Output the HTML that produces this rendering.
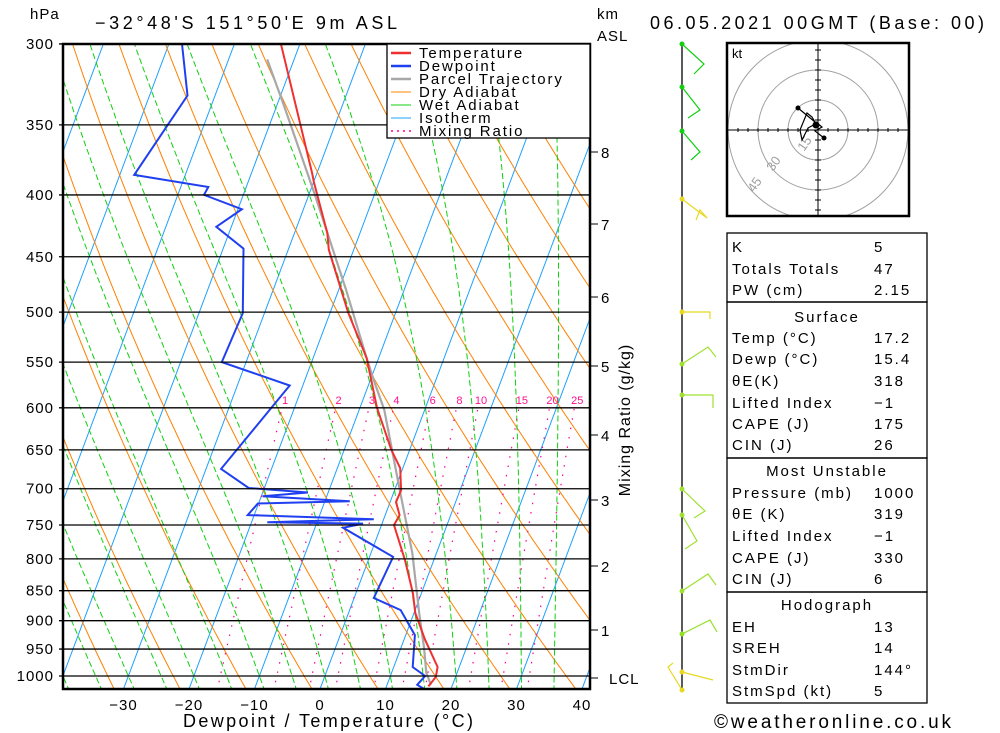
<!DOCTYPE html>
<html><head><meta charset="utf-8"><style>
body{margin:0;background:#fff;}
svg{display:block;font-family:"Liberation Sans",sans-serif;}
.t{font-size:15px;letter-spacing:1px;fill:#000;}
.tb{font-size:15px;letter-spacing:2px;fill:#000;}
</style></head><body>
<svg id="chart" width="1000" height="733" viewBox="0 0 1000 733">
<defs><clipPath id="pc"><rect x="63" y="44" width="527" height="645"/></clipPath>
<clipPath id="hc"><rect x="727" y="43" width="182" height="173"/></clipPath></defs>
<g id="bg" clip-path="url(#pc)"></g>
<g id="prof" clip-path="url(#pc)"></g>
<g id="frame"></g>
<text x="30" y="19" class="t">hPa</text>
<text x="95" y="29" class="t" style="font-size:18px" textLength="303" lengthAdjust="spacing">−32°48'S 151°50'E 9m ASL</text>
<text x="650" y="29" class="t" style="font-size:18px" textLength="335" lengthAdjust="spacing">06.05.2021 00GMT (Base: 00)</text>
<text x="597" y="19" class="t">km</text>
<text x="597" y="41" class="t">ASL</text>
<text x="183" y="727" class="t" style="font-size:18px" textLength="291" lengthAdjust="spacing">Dewpoint / Temperature (°C)</text>
<text x="630" y="420" class="t" transform="rotate(-90 630 420)" text-anchor="middle" style="font-size:16px">Mixing Ratio (g/kg)</text>
<g id="legend"></g>
<g id="barbs"></g>
<g id="hodo"></g>
<g id="table"></g>
<text x="714" y="728" class="t" style="font-size:19px" textLength="238" lengthAdjust="spacing">©weatheronline.co.uk</text>
</svg>
<script>
const tempP=[300,384,390,430,444,500,546,600,650,673,702,718,736,750,802,854,887,933,983,1002,1020];
const tempT=[-42.9,-30.7,-30.0,-25.0,-23.8,-17.3,-11.8,-7.4,-2.8,-0.4,1.0,0.9,2.2,1.9,5.6,8.7,10.2,13.2,16.7,17.0,16.4];
const dewP=[300,331,385,394,400,411,425,443,501,550,575,674,699,705,710,717,720,736,742,746,748,754,797,862,882,925,983,1000,1017,1025];
const dewT=[-58.0,-54.2,-57.8,-45.8,-46.0,-39.4,-42.3,-36.9,-33.3,-33.7,-22.0,-27.7,-22.4,-13.1,-19.8,-6.2,-20.1,-21.0,-1.5,-17.6,-2.9,-5.7,3.6,3.0,7.8,11.4,12.9,15.3,14.6,15.9];
const parcelP=[309,338,399,479,546,569,602,702,791,887,947,994,1017];
const parcelT=[-44.1,-38.8,-29.2,-18.9,-11.8,-9.5,-6.2,0.8,6.3,10.8,13.5,15.3,16.7];
const pressureTicks=[300,350,400,450,500,550,600,650,700,750,800,850,900,950,1000];
const tempTicks=[-30,-20,-10,0,10,20,30,40];
const kmTicks=[8,7,6,5,4,3,2,1];
const kmY=[152,224,297,366,435,500,566,630];
const mixRatios=[1,2,3,4,6,8,10,15,20,25];

const NS="http://www.w3.org/2000/svg";
function yP(p){return 676+525*Math.log(p/1000);}
function xT(T,p){return 320+6.55*T+0.375*(689-yP(p));}
function mk(parent,tag,attrs){const e=document.createElementNS(NS,tag);for(const k in attrs)e.setAttribute(k,attrs[k]);parent.appendChild(e);return e;}
function pts(P,T){return P.map((p,i)=>xT(T[i],p).toFixed(1)+","+yP(p).toFixed(1)).join(" ");}
const bg=document.getElementById('bg'),prof=document.getElementById('prof'),frame=document.getElementById('frame');

for(let T=-120;T<=40;T+=10){
 const l=mk(bg,'line',{x1:xT(T,1030),y1:yP(1030),x2:xT(T,290),y2:yP(290),stroke:'#1ea0ff','stroke-width':1});
 
 
}
for(let th=240;th<=480;th+=10){
 const P=[],T=[];for(let p=1030;p>=290;p-=10){P.push(p);T.push(th*Math.pow(p/1000,0.286)-273.15);}
 const l=mk(bg,'polyline',{points:pts(P,T),fill:'none',stroke:'#ff8000','stroke-width':1});
 
 
}
function es(t){return 6.112*Math.exp(17.67*t/(t+243.5));}
function dTdp(Tk,p){const t=Tk-273.15;const e=es(t);const rs=0.622*e/(p-e);const Rd=287,cp=1004,Lv=2.5e6;
 return (Rd*Tk+Lv*rs)/(p*(cp+Lv*Lv*rs*0.622/(Rd*Tk*Tk)));}
for(let t0=-40;t0<=35;t0+=5){
 const P=[],T=[];let Tk=t0+273.15;
 let Tb=Tk;const dn=[];for(let p=1000;p<=1030;p+=5){dn.push([p,Tb-273.15]);Tb+=dTdp(Tb,p)*5;}
 dn.reverse().forEach(a=>{P.push(a[0]);T.push(a[1]);});
 for(let p=995;p>=290;p-=5){Tk-=dTdp(Tk,p+5)*5;P.push(p);T.push(Tk-273.15);}
 const l=mk(bg,'polyline',{points:pts(P,T),fill:'none',stroke:'#10d010','stroke-width':1,'stroke-dasharray':'6,3'});
 
 
}
function tdW(w,p){const e=w*p/(622+w);const g=Math.log(e/6.112);return 243.5*g/(17.67-g)+1.1+0.07*w;}
mixRatios.forEach(w=>{
 const P=[],T=[];for(let p=1030;p>=600;p-=10){P.push(p);T.push(tdW(w,p));}
 const l=mk(bg,'polyline',{points:pts(P,T),fill:'none',stroke:'#ff0090','stroke-width':1.2,'stroke-dasharray':'1.5,8'});
 
 
 const tx=mk(frame,'text',{x:xT(tdW(w,600),600)+3,y:404,'font-size':11,fill:'#ff1090','text-anchor':'middle'});
 tx.textContent=w;
 
 
});
pressureTicks.forEach(p=>{
 const l=mk(frame,'line',{x1:59,y1:yP(p),x2:590,y2:yP(p),stroke:'#000','stroke-width':1.3});
 
 
 const t=mk(frame,'text',{x:54,y:yP(p)+5,class:'t','text-anchor':'end'});t.textContent=p;
 
 
});
tempTicks.forEach(T=>{
 const t=mk(frame,'text',{x:320+6.55*T,y:710,class:'t','text-anchor':'middle','font-size':16});t.textContent=(T<0?'−':'')+Math.abs(T);
 
 
});
kmTicks.forEach((k,i)=>{
 mk(frame,'line',{x1:590,y1:kmY[i],x2:598,y2:kmY[i],stroke:'#000'});
 const t=mk(frame,'text',{x:601,y:kmY[i]+6,class:'t'});t.textContent=k;
 
 
});
mk(frame,'line',{x1:590,y1:678,x2:598,y2:678,stroke:'#000'});
{const t=mk(frame,'text',{x:609,y:684,class:'t'});t.textContent='LCL';
 
 }
{const r=mk(frame,'rect',{x:63,y:44,width:527,height:645,fill:'none',stroke:'#000','stroke-width':2.5});
 
 }
{const l=mk(prof,'polyline',{points:pts(parcelP,parcelT),fill:'none',stroke:'#a8a8a8','stroke-width':2.2});
 
 }
{const l=mk(prof,'polyline',{points:pts(tempP,tempT),fill:'none',stroke:'#f03030','stroke-width':2});
 
 }
{const l=mk(prof,'polyline',{points:pts(dewP,dewT),fill:'none',stroke:'#2040f0','stroke-width':2});
 
 }
const lg=document.getElementById('legend');
mk(lg,'rect',{x:387,y:44,width:203,height:94,fill:'#fff',stroke:'#000','stroke-width':1.3});
[['Temperature','#f03030',2.5,''],['Dewpoint','#2040f0',2.5,''],['Parcel Trajectory','#a8a8a8',2.5,''],['Dry Adiabat','#ff8000',1,''],['Wet Adiabat','#10d010',1,''],['Isotherm','#1ea0ff',1,''],['Mixing Ratio','#ff0090',1.5,'2,4']].forEach((e,i)=>{
 const y=53+i*13;
 mk(lg,'line',{x1:391,y1:y,x2:411,y2:y,stroke:e[1],'stroke-width':e[2],'stroke-dasharray':e[3]});
 const t=mk(lg,'text',{x:419,y:y+5,class:'t','font-size':14,style:'letter-spacing:1.9px'});t.textContent=e[0];
 
 
});
const bb=document.getElementById('barbs');
mk(bb,'line',{x1:682,y1:44,x2:682,y2:690,stroke:'#000','stroke-width':1.3});
const barbs=[
['#10d010',44,'682,44 704,64 694,74'],['#10d010',87,'682,87 700,110 688,118'],['#10d010',131,'682,131 700,152 691,160'],
['#e8d820',199,'682,199 707,218 700,210 696,220'],['#e8d820',312,'682,312 710,312 710,319'],
['#a0e030',364,'682,364 708,347 716,357'],['#a0e030',395,'682,395 713,395 713,408'],
['#a0e030',489,'682,489 705,511 694,518'],['#a0e030',515,'682,515 697,541 685,549'],
['#a0e030',591,'682,591 708,574 716,585'],['#90e020',634,'682,634 710,620 717,632'],
['#e8d820',672,'682,672 713,680'],['#e8d820',690,'682,690 668,667 673,663']];
barbs.forEach(b=>{
 const l=mk(bb,'polyline',{points:b[2],fill:'none',stroke:b[0],'stroke-width':1.2});
 
 
 mk(bb,'circle',{cx:682,cy:b[1],r:2.5,fill:b[0]});
});
const hd=document.getElementById('hodo');
const cx=818,cy=130;
const hg=mk(hd,'g',{'clip-path':'url(#hc)'});
[30,60,90].forEach(r=>mk(hg,'circle',{cx:cx,cy:cy,r:r,fill:'none',stroke:'#a0a0a0','stroke-width':1}));
mk(hd,'line',{x1:727,y1:cy,x2:909,y2:cy,stroke:'#000'});
mk(hd,'line',{x1:cx,y1:43,x2:cx,y2:216,stroke:'#000'});
for(let d=-80;d<=80;d+=10){if(!d)continue;mk(hd,'line',{x1:cx+d,y1:cy-2,x2:cx+d,y2:cy+2,stroke:'#000'});mk(hd,'line',{x1:cx-3,y1:cy+d,x2:cx+3,y2:cy+d,stroke:'#000'});}
[['15',804,152],['30',773,172],['45',754,193]].forEach(a=>{const t=mk(hd,'text',{x:a[1],y:a[2],'font-size':13,fill:'#a0a0a0',transform:`rotate(-55 ${a[1]} ${a[2]})`});t.textContent=a[0];});
mk(hd,'polyline',{points:'798,108 815,122 812,117 807,113 800,130 802,140 808,128 817,123 822,127 815,131 824,138',fill:'none',stroke:'#000','stroke-width':1.2});
mk(hd,'circle',{cx:798,cy:108,r:2.5,fill:'#000'});mk(hd,'circle',{cx:824,cy:138,r:2.5,fill:'#000'});mk(hd,'circle',{cx:816,cy:125,r:3.5,fill:'#000'});
mk(hd,'rect',{x:727,y:43,width:182,height:173,fill:'none',stroke:'#000','stroke-width':2.5});
{const t=mk(hd,'text',{x:732,y:58,'font-size':13});t.textContent='kt';}
const tb=document.getElementById('table');
[[233,302],[302,458],[458,592],[592,703]].forEach(s=>mk(tb,'rect',{x:727,y:s[0],width:200,height:s[1]-s[0],fill:'none',stroke:'#000','stroke-width':1.3}));
const rows=[['K','5',252],['Totals Totals','47',274],['PW (cm)','2.15',295],['#Surface','',322],['Temp (°C)','17.2',343],['Dewp (°C)','15.4',364],['θE(K)','318',386],['Lifted Index','−1',408],['CAPE (J)','175',429],['CIN (J)','26',450],
['#Most Unstable','',476],['Pressure (mb)','1000',498],['θE (K)','319',519],['Lifted Index','−1',541],['CAPE (J)','330',563],['CIN (J)','6',584],['#Hodograph','',610],['EH','13',632],['SREH','14',653],['StmDir','144°',675],['StmSpd (kt)','5',696]];
rows.forEach(r=>{
 let t;
 if(r[0][0]=='#'){t=mk(tb,'text',{x:827,y:r[2],class:'tb','text-anchor':'middle'});t.textContent=r[0].slice(1);}
 else{t=mk(tb,'text',{x:732,y:r[2],class:'tb'});t.textContent=r[0];
  const v=mk(tb,'text',{x:874,y:r[2],class:'tb'});v.textContent=r[1];
  
  }
 
 
});
</script>
</body></html>
